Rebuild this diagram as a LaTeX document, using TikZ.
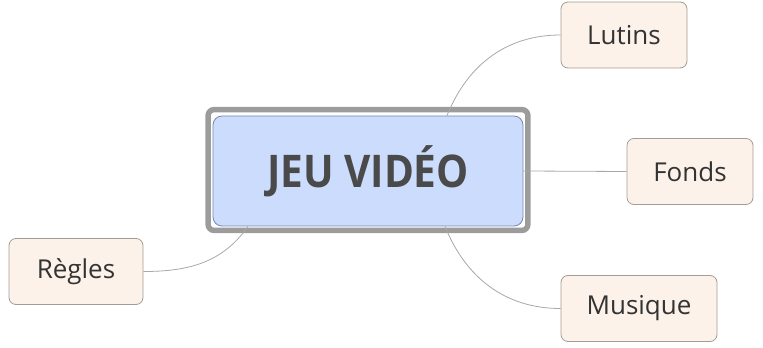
\documentclass[tikz,border=0pt]{standalone}
\usepackage{fontspec}
\setmainfont{Open Sans}
\newfontfamily\titrefont{Open Sans}[FakeStretch=0.9]
\usetikzlibrary{positioning}
\definecolor{fondcentre}{HTML}{CBDCFC}
\definecolor{bordcentre}{HTML}{7488B0}
\definecolor{fondbranche}{HTML}{FDF2E9}
\definecolor{bordbranche}{HTML}{A39C95}
\definecolor{cadregris}{HTML}{9C9C9C}
\definecolor{liengris}{HTML}{A8A8A8}
\definecolor{textegris}{HTML}{4A4A4A}

\begin{document}
\begin{tikzpicture}[x=1pt,y=1pt,
    centre/.style={draw=bordcentre, fill=fondcentre, rounded corners=9pt, line width=0.8pt,
        minimum width=310pt, minimum height=110pt, text=textegris,
        font=\titrefont\fontsize{45}{50}\selectfont\bfseries},
    branche/.style={draw=bordbranche, fill=fondbranche, rounded corners=7pt, line width=0.8pt,
        minimum height=66pt, text=black!80, font=\fontsize{26}{30}\selectfont},
    cadre/.style={draw=cadregris, line width=5.5pt, rounded corners=6pt},
    lien/.style={draw=liengris, line width=0.8pt}]
        \useasboundingbox (0,0) rectangle (763,348);

        \node (centre) [centre] at (368,177) {\raisebox{-4pt}{JEU VIDÉO}};
        \draw[cadre] ([xshift=-4.5pt,yshift=6pt]centre.north west) rectangle ([xshift=4.5pt,yshift=-4pt]centre.south east);

        \node (lutins) [branche, minimum width=126pt] at (624,313) {Lutins};
        \node (fonds) [branche, minimum width=126pt] at (690,176.5) {Fonds};
        \node (regles) [branche, minimum width=134pt] at (76,76.5) {Règles};
        \node (musique) [branche, minimum width=156pt] at (639,39.5) {Musique};

        \draw[lien] ([xshift=79pt]centre.north) to[out=68, in=180] (lutins.west);
        \draw[lien] (centre.east) -- (fonds.west);
        \draw[lien] ([xshift=77pt]centre.south) to[out=-68, in=180] (musique.west);
        \draw[lien] ([xshift=-120pt]centre.south) to[out=-125, in=0] (regles.east);
\end{tikzpicture}
\end{document}
